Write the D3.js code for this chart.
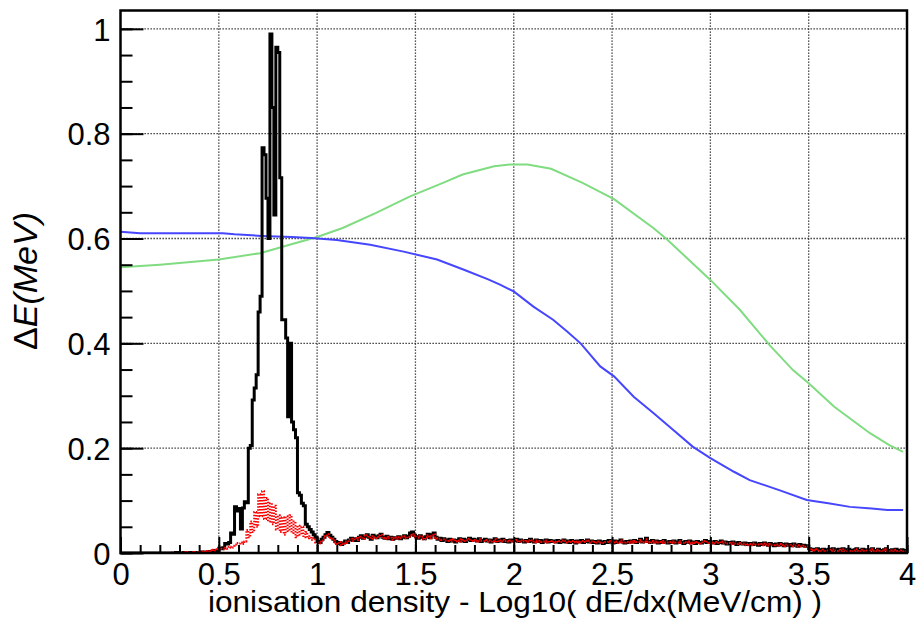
<!DOCTYPE html>
<html lang="en">
<head>
<meta charset="UTF-8">
<title>ionisation density</title>
<script src="https://d3js.org/d3.v7.min.js"></script>
<style>
  body { margin: 0; background: #fff; }
  text { font-family: "Liberation Sans", Arial, sans-serif; fill: #000; }
</style>
</head>
<body>
<svg width="916" height="626" id="mainsvg"></svg>
<script>
// histogram binning: 400 bins of 0.01 between 0 and 4
const binStart = 0;
const binWidth = 0.01;

// black histogram (total), one row = 0.2 in x
const histBlack = [
  0,0,0,0,0,0,0,0,0,0, 0,0,0,0,0,0,0,0,0,0,
  0,0,0,0,0,0,0,0,0.001,0, 0,0,0.001,0,0,0.001,0,0,0.001,0.001,
  0.001,0.002,0.001,0.002,0.002,0.003,0.002,0.005,0.005,0.004, 0.009,0.008,0.010,0.018,0.017,0.020,0.038,0.036,0.088,0.080,
  0.085,0.046,0.086,0.098,0.096,0.200,0.205,0.292,0.315,0.340, 0.460,0.490,0.773,0.760,0.677,0.600,0.990,0.850,0.645,0.965,
  0.955,0.716,0.445,0.445,0.410,0.260,0.400,0.250,0.235,0.220, 0.115,0.110,0.095,0.090,0.055,0.050,0.045,0.040,0.035,0.030,
  0.022,0.020,0.026,0.030,0.035,0.039,0.034,0.030,0.026,0.022, 0.018,0.020,0.016,0.019,0.023,0.020,0.025,0.028,0.024,0.027,
  0.024,0.030,0.033,0.028,0.032,0.035,0.030,0.026,0.034,0.031, 0.029,0.033,0.036,0.030,0.028,0.032,0.027,0.030,0.026,0.029,
  0.028,0.031,0.027,0.030,0.033,0.029,0.032,0.038,0.040,0.034, 0.031,0.028,0.033,0.030,0.027,0.031,0.036,0.029,0.035,0.038,
  0.030,0.026,0.028,0.024,0.027,0.025,0.022,0.026,0.023,0.025, 0.021,0.024,0.027,0.023,0.026,0.022,0.025,0.028,0.024,0.026,
  0.025,0.023,0.027,0.022,0.024,0.026,0.023,0.025,0.021,0.024, 0.027,0.022,0.025,0.023,0.026,0.022,0.024,0.021,0.025,0.023,
  0.024,0.026,0.022,0.025,0.023,0.021,0.024,0.022,0.026,0.023, 0.021,0.025,0.022,0.024,0.020,0.023,0.025,0.021,0.024,0.022,
  0.023,0.021,0.024,0.020,0.022,0.025,0.021,0.023,0.020,0.024, 0.022,0.019,0.023,0.021,0.024,0.020,0.022,0.025,0.021,0.023,
  0.020,0.022,0.019,0.023,0.021,0.018,0.022,0.020,0.024,0.021, 0.019,0.023,0.020,0.022,0.025,0.021,0.019,0.022,0.020,0.023,
  0.021,0.024,0.020,0.022,0.026,0.021,0.023,0.028,0.022,0.020, 0.024,0.021,0.023,0.019,0.022,0.020,0.024,0.021,0.019,0.022,
  0.020,0.023,0.019,0.021,0.024,0.020,0.018,0.022,0.020,0.023, 0.019,0.021,0.018,0.022,0.020,0.019,0.021,0.024,0.020,0.022,
  0.021,0.019,0.022,0.018,0.020,0.023,0.019,0.021,0.017,0.020, 0.018,0.021,0.019,0.016,0.020,0.018,0.017,0.019,0.016,0.018,
  0.018,0.016,0.019,0.017,0.015,0.018,0.016,0.019,0.017,0.015, 0.018,0.016,0.014,0.017,0.015,0.018,0.016,0.014,0.017,0.015,
  0.016,0.014,0.017,0.015,0.013,0.016,0.014,0.015,0.013,0.014, 0.008,0.006,0.007,0.005,0.008,0.006,0.004,0.007,0.005,0.006,
  0.007,0.005,0.008,0.006,0.004,0.007,0.005,0.008,0.006,0.004, 0.007,0.005,0.003,0.006,0.008,0.005,0.004,0.007,0.005,0.006,
  0.004,0.006,0.008,0.005,0.003,0.007,0.005,0.004,0.006,0.008, 0.005,0.003,0.006,0.004,0.007,0.005,0.003,0.006,0.004,0.005
];

// red dotted histogram (subset)
const histRed = [
  0,0,0,0,0,0,0,0,0,0, 0,0,0,0,0,0,0,0,0,0,
  0,0,0,0,0,0.001,0,0,0,0.001, 0,0.001,0,0.002,0.001,0,0.002,0.001,0.002,0.001,
  0.002,0.003,0.002,0.004,0.003,0.005,0.004,0.006,0.005,0.007, 0.006,0.008,0.007,0.010,0.008,0.012,0.010,0.014,0.016,0.019,
  0.018,0.020,0.017,0.022,0.044,0.030,0.060,0.040,0.078,0.050, 0.112,0.070,0.118,0.065,0.105,0.060,0.095,0.055,0.090,0.045,
  0.072,0.040,0.068,0.035,0.070,0.042,0.072,0.038,0.060,0.030, 0.052,0.035,0.050,0.030,0.040,0.028,0.032,0.025,0.028,0.020,
  0.020,0.018,0.024,0.028,0.032,0.036,0.031,0.028,0.024,0.020, 0.017,0.021,0.015,0.018,0.022,0.019,0.026,0.027,0.023,0.028,
  0.025,0.029,0.031,0.027,0.033,0.034,0.029,0.027,0.032,0.030, 0.028,0.034,0.035,0.029,0.027,0.031,0.028,0.029,0.025,0.030,
  0.027,0.030,0.028,0.031,0.032,0.028,0.031,0.034,0.036,0.033, 0.030,0.029,0.032,0.031,0.026,0.030,0.034,0.028,0.034,0.036,
  0.029,0.027,0.027,0.025,0.026,0.024,0.023,0.025,0.022,0.026, 0.022,0.023,0.026,0.022,0.025,0.023,0.024,0.027,0.023,0.025,
  0.024,0.022,0.026,0.023,0.023,0.025,0.022,0.024,0.022,0.023, 0.026,0.021,0.024,0.022,0.025,0.023,0.023,0.022,0.024,0.022,
  0.023,0.025,0.021,0.024,0.022,0.022,0.023,0.021,0.025,0.022, 0.020,0.024,0.021,0.023,0.021,0.022,0.024,0.020,0.023,0.021,
  0.022,0.020,0.023,0.021,0.021,0.024,0.020,0.022,0.021,0.023, 0.021,0.020,0.022,0.020,0.023,0.021,0.021,0.024,0.020,0.022,
  0.021,0.021,0.020,0.022,0.020,0.019,0.021,0.021,0.023,0.020, 0.020,0.022,0.019,0.021,0.024,0.020,0.020,0.021,0.019,0.022,
  0.020,0.023,0.021,0.021,0.025,0.020,0.022,0.026,0.021,0.019, 0.023,0.020,0.022,0.020,0.021,0.019,0.023,0.020,0.020,0.021,
  0.019,0.022,0.020,0.020,0.023,0.019,0.019,0.021,0.019,0.022, 0.018,0.020,0.019,0.021,0.019,0.018,0.020,0.023,0.019,0.021,
  0.020,0.018,0.021,0.019,0.019,0.022,0.018,0.020,0.018,0.019, 0.017,0.020,0.018,0.017,0.019,0.017,0.018,0.018,0.015,0.017,
  0.017,0.015,0.018,0.016,0.016,0.017,0.015,0.018,0.016,0.014, 0.017,0.015,0.015,0.016,0.014,0.017,0.015,0.013,0.016,0.014,
  0.015,0.013,0.016,0.014,0.012,0.015,0.013,0.014,0.012,0.013, 0.007,0.005,0.006,0.005,0.007,0.005,0.004,0.006,0.004,0.005,
  0.006,0.004,0.007,0.005,0.004,0.006,0.004,0.007,0.005,0.003, 0.006,0.004,0.003,0.005,0.007,0.004,0.003,0.006,0.004,0.005,
  0.003,0.005,0.007,0.004,0.003,0.006,0.004,0.003,0.005,0.007, 0.004,0.003,0.005,0.003,0.006,0.004,0.003,0.005,0.003,0.004
];

// blue curve
const blueX = [0.0, 0.1, 0.3, 0.52, 0.58, 0.72, 0.87, 0.97, 1.10, 1.27, 1.44, 1.61, 1.75, 1.87, 1.93, 2.0, 2.10, 2.20, 2.27, 2.34, 2.44, 2.51, 2.61, 2.71, 2.81, 2.91, 3.0, 3.12, 3.2, 3.35, 3.49, 3.6, 3.71, 3.82, 3.90, 3.98];
const blueY = [0.613, 0.610, 0.610, 0.610, 0.608, 0.605, 0.603, 0.601, 0.597, 0.588, 0.575, 0.560, 0.540, 0.522, 0.512, 0.499, 0.470, 0.445, 0.423, 0.400, 0.356, 0.337, 0.298, 0.267, 0.235, 0.203, 0.181, 0.155, 0.139, 0.120, 0.101, 0.095, 0.088, 0.085, 0.082, 0.082];

// green curve
const greenX = [0.0, 0.2, 0.5, 0.71, 0.86, 1.0, 1.13, 1.30, 1.47, 1.64, 1.74, 1.90, 1.98, 2.07, 2.19, 2.35, 2.51, 2.71, 2.78, 3.0, 3.15, 3.30, 3.42, 3.50, 3.63, 3.81, 3.91, 3.98];
const greenY = [0.545, 0.550, 0.560, 0.572, 0.588, 0.603, 0.620, 0.649, 0.680, 0.706, 0.722, 0.738, 0.741, 0.741, 0.733, 0.706, 0.675, 0.620, 0.598, 0.521, 0.464, 0.397, 0.349, 0.324, 0.279, 0.229, 0.206, 0.193];

// ticks
const xTicks = [0, 0.5, 1, 1.5, 2, 2.5, 3, 3.5, 4];
const xTickLabels = ['0', '0.5', '1', '1.5', '2', '2.5', '3', '3.5', '4'];
const yTicks = [0, 0.2, 0.4, 0.6, 0.8, 1];
const yTickLabels = ['0', '0.2', '0.4', '0.6', '0.8', '1'];

const svg = d3.select('#mainsvg');
const width = +svg.attr('width');
const height = +svg.attr('height');
const margin = { top: 10.5, right: 9, bottom: 73, left: 120.5 };
const innerWidth = width - margin.left - margin.right;
const innerHeight = height - margin.top - margin.bottom;

const xScale = d3.scaleLinear().domain([0, 4]).range([0, innerWidth]);
const yScale = d3.scaleLinear().domain([0, 1.035]).range([innerHeight, 0]);

const g = svg.append('g').attr('transform', `translate(${margin.left},${margin.top})`);

g.append('clipPath').attr('id', 'frameclip')
  .append('rect').attr('width', innerWidth).attr('height', innerHeight);

// dotted grid at the major ticks
const gridG = g.append('g');
gridG.selectAll('.gx').data(xTicks.slice(1, -1)).enter().append('line')
  .attr('x1', d => xScale(d)).attr('x2', d => xScale(d))
  .attr('y1', 0).attr('y2', innerHeight);
gridG.selectAll('.gy').data(yTicks.slice(1)).enter().append('line')
  .attr('x1', 0).attr('x2', innerWidth)
  .attr('y1', d => yScale(d)).attr('y2', d => yScale(d));
gridG.selectAll('line')
  .attr('stroke', '#222').attr('stroke-width', 1.3).attr('stroke-dasharray', '1.3,1.7');

const plotG = g.append('g').attr('clip-path', 'url(#frameclip)');

// curves
const curveLine = d3.line().x(d => xScale(d[0])).y(d => yScale(d[1]));
plotG.append('path')
  .attr('d', curveLine(greenX.map((x, i) => [x, greenY[i]])))
  .attr('fill', 'none').attr('stroke', '#80dc80').attr('stroke-width', 2);
plotG.append('path')
  .attr('d', curveLine(blueX.map((x, i) => [x, blueY[i]])))
  .attr('fill', 'none').attr('stroke', '#4646ff').attr('stroke-width', 2);

// histograms drawn as steps
const histPoints = vals => {
  const pts = vals.map((v, i) => [binStart + i * binWidth, v]);
  pts.push([binStart + vals.length * binWidth, vals[vals.length - 1]]);
  return pts;
};
const stepLine = d3.line().x(d => xScale(d[0])).y(d => yScale(d[1])).curve(d3.curveStepAfter);

plotG.append('path')
  .attr('d', stepLine(histPoints(histBlack)))
  .attr('fill', 'none').attr('stroke', '#000').attr('stroke-width', 3);
plotG.append('path')
  .attr('d', stepLine(histPoints(histRed)))
  .attr('fill', 'none').attr('stroke', '#ff0000').attr('stroke-width', 2)
  .attr('stroke-dasharray', '1.5,1.5');

// axes, ticks point inwards
const xMajor = d3.axisBottom(xScale).tickValues(xTicks)
  .tickFormat((d, i) => xTickLabels[i]).tickSizeInner(-16).tickSizeOuter(0).tickPadding(0);
const xMinor = d3.axisBottom(xScale).tickValues(d3.range(0, 41).map(i => i / 10))
  .tickFormat('').tickSizeInner(-8).tickSizeOuter(0);
const yMajor = d3.axisLeft(yScale).tickValues(yTicks)
  .tickFormat((d, i) => yTickLabels[i]).tickSizeInner(-23).tickSizeOuter(0).tickPadding(0);
const yMinor = d3.axisLeft(yScale).tickValues(d3.range(0, 21).map(i => i / 20))
  .tickFormat('').tickSizeInner(-12).tickSizeOuter(0);

const axes = [
  g.append('g').attr('transform', `translate(0,${innerHeight})`).call(xMinor),
  g.append('g').attr('transform', `translate(0,${innerHeight})`).call(xMajor),
  g.append('g').call(yMinor),
  g.append('g').call(yMajor)
];
axes.forEach(a => {
  a.select('.domain').remove();
  a.selectAll('.tick line').attr('stroke', '#000').attr('stroke-width', 2);
  a.selectAll('text').style('font-family', '"Liberation Sans", Arial, sans-serif')
    .style('font-size', '31px').attr('fill', '#000');
});
axes[0].selectAll('text').remove();
axes[2].selectAll('text').remove();
axes[1].selectAll('text').attr('y', 32).attr('dy', 0);
axes[3].selectAll('text').attr('x', -10).attr('dy', '0.36em');

// frame
g.append('rect').attr('width', innerWidth).attr('height', innerHeight)
  .attr('fill', 'none').attr('stroke', '#000').attr('stroke-width', 2.5);

// axis titles
svg.append('text')
  .attr('x', 822).attr('y', 612)
  .attr('text-anchor', 'end')
  .attr('textLength', 614).attr('lengthAdjust', 'spacingAndGlyphs')
  .style('font-size', '29px')
  .text('ionisation density - Log10( dE/dx(MeV/cm) )');

const yTitle = svg.append('text')
  .attr('transform', 'translate(37,212) rotate(-90)')
  .attr('text-anchor', 'end')
  .style('font-size', '34px');
yTitle.append('tspan').text('Δ');
yTitle.append('tspan').style('font-style', 'italic').text('E(MeV)');
</script>
</body>
</html>
